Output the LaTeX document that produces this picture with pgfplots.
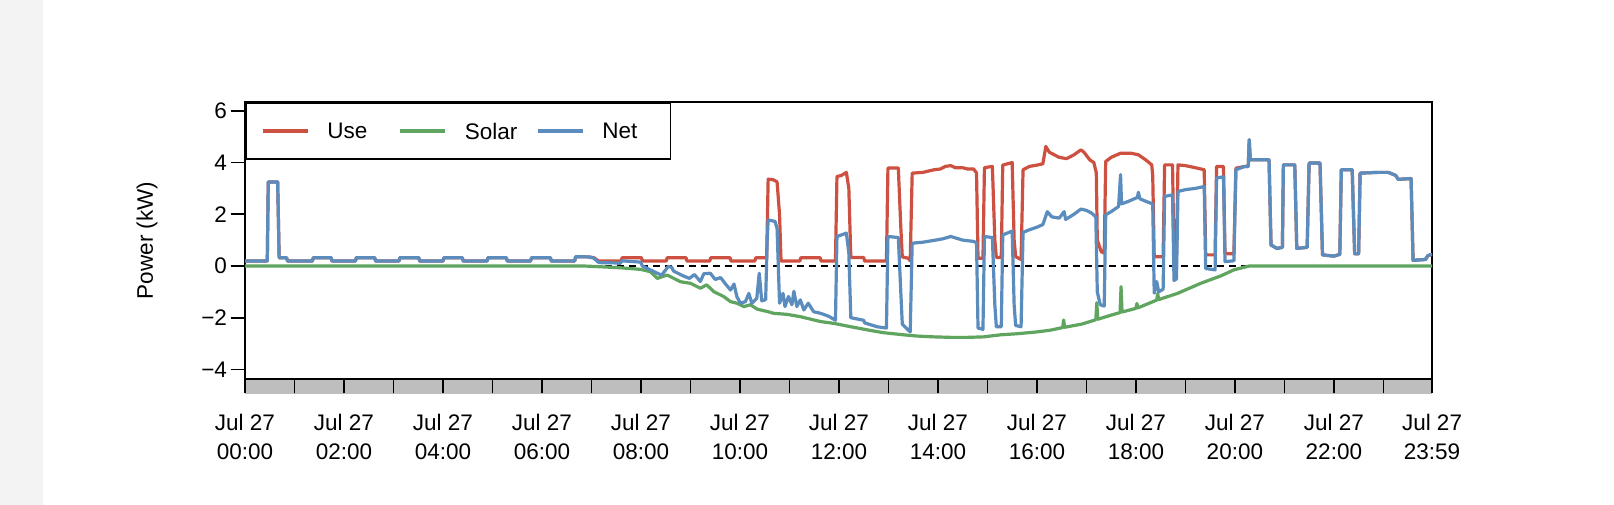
\documentclass[border=0pt]{standalone}
\usepackage{fontspec}
\setmainfont{Liberation Sans}
\usepackage{pgfplots}
\pgfplotsset{compat=1.18}
\definecolor{cuse}{RGB}{205,80,65}
\definecolor{csolar}{RGB}{95,165,95}
\definecolor{cnet}{RGB}{90,140,190}
\definecolor{bandgray}{RGB}{190,190,190}
\definecolor{strip}{RGB}{243,243,243}
\newcommand{\fs}{\fontsize{22.5bp}{28.3bp}\selectfont}
\begin{document}
\begin{tikzpicture}
\path[use as bounding box, fill=white] (0bp,0bp) rectangle (1614bp,505bp);
\fill[strip] (0bp,0bp) rectangle (43bp,505bp);
\fill[bandgray] (245bp,111bp) rectangle (1432bp,126bp);
\begin{axis}[
  at={(245bp,126bp)}, anchor=south west, scale only axis,
  width=1187bp, height=277bp,
  xmin=0, xmax=23.983, ymin=-4.37, ymax=6.34,
  axis line style={line width=1.6bp},
  tick style={black, line width=1.6bp},
  tick align=outside, major tick length=14.5bp,
  xtick pos=bottom, ytick pos=left,
  ytick={-4,-2,0,2,4,6},
  yticklabels={−4,−2,0,2,4,6},
  yticklabel style={font=\fs},
  xtick={0,1,...,23,23.983},
  xticklabels={{Jul 27\\00:00},{},{Jul 27\\02:00},{},{Jul 27\\04:00},{},{Jul 27\\06:00},{},{Jul 27\\08:00},{},{Jul 27\\10:00},{},{Jul 27\\12:00},{},{Jul 27\\14:00},{},{Jul 27\\16:00},{},{Jul 27\\18:00},{},{Jul 27\\20:00},{},{Jul 27\\22:00},{},{Jul 27\\23:59}},
  xticklabel style={font=\fs, align=center, anchor=north, yshift=-17.5bp},
  ylabel={Power (kW)},
  every axis y label/.style={at={(rel axis cs:0,0.5)}, xshift=-98bp, rotate=90, anchor=center, font=\fs},
  legend columns=3,
  legend style={at={(0,1)}, anchor=north west, draw=black, line width=1.6bp, font=\fs,
    inner xsep=15bp, inner ysep=20bp, cells={anchor=west}, nodes={inner sep=0pt, text depth=0pt},
    /tikz/every odd column/.append style={column sep=18bp},
    /tikz/every even column/.append style={column sep=18bp}},
  legend image code/.code={\draw[#1, line width=3.5bp] (0bp,0bp) -- (45bp,0bp);},
]
\addplot[black, line width=1.3bp, dash pattern=on 7bp off 5bp, forget plot] coordinates {(0,0) (23.983,0)};
\addplot[cuse, line width=3.2bp, line join=round] coordinates {
(0,0.19)(0.45,0.19)(0.47,3.25)(0.66,3.25)(0.69,0.32)(0.84,0.32)(0.86,0.19)(1.36,0.19)(1.38,0.32)(1.74,0.32)(1.76,0.19)(2.23,0.19)(2.25,0.32)(2.62,0.32)(2.64,0.19)(3.11,0.19)(3.13,0.32)(3.51,0.32)(3.53,0.19)(4.00,0.19)(4.02,0.32)(4.39,0.32)(4.41,0.19)(4.89,0.19)(4.91,0.32)(5.28,0.32)(5.30,0.19)(5.77,0.19)(5.79,0.32)(6.17,0.32)(6.19,0.19)(6.66,0.19)(6.68,0.36)(6.95,0.35)(7.05,0.32)(7.12,0.22)(7.16,0.19)(7.60,0.19)(7.62,0.32)(8.01,0.32)(8.03,0.19)(8.51,0.19)(8.53,0.32)(8.91,0.32)(8.93,0.19)(9.39,0.19)(9.41,0.32)(9.80,0.32)(9.82,0.19)(10.30,0.19)(10.32,0.32)(10.54,0.32)(10.57,3.36)(10.68,3.33)(10.75,3.25)(10.80,2.0)(10.83,0.19)(11.21,0.19)(11.23,0.32)(11.62,0.32)(11.64,0.19)(11.93,0.19)(11.96,3.46)(12.05,3.5)(12.15,3.62)(12.2,3.0)(12.24,0.33)(12.50,0.33)(12.52,0.19)(12.96,0.19)(12.99,3.79)(13.20,3.79)(13.25,1.5)(13.28,0.35)(13.40,0.3)(13.44,0.2)(13.48,3.59)(13.70,3.62)(13.92,3.72)(14.05,3.75)(14.15,3.85)(14.26,3.88)(14.35,3.8)(14.5,3.8)(14.6,3.75)(14.72,3.75)(14.78,3.6)(14.81,0.3)(14.91,0.3)(14.94,3.8)(15.10,3.85)(15.15,1.0)(15.18,0.33)(15.28,0.33)(15.31,3.9)(15.50,4.0)(15.54,1.0)(15.57,0.36)(15.68,0.25)(15.72,3.72)(15.85,3.85)(16.0,3.9)(16.12,3.95)(16.18,4.62)(16.25,4.4)(16.45,4.2)(16.6,4.15)(16.75,4.3)(16.89,4.49)(16.95,4.4)(17.07,4.1)(17.15,4.0)(17.20,3.6)(17.22,1.0)(17.30,0.55)(17.36,0.5)(17.39,4.04)(17.5,4.2)(17.69,4.36)(17.9,4.36)(18.05,4.3)(18.2,4.1)(18.32,3.91)(18.34,3.5)(18.37,0.36)(18.55,0.36)(18.58,3.91)(18.74,3.91)(18.77,0.36)(18.82,0.36)(18.85,3.91)(19.0,3.88)(19.2,3.8)(19.38,3.72)(19.41,0.43)(19.6,0.43)(19.63,3.85)(19.77,3.85)(19.80,0.47)(19.98,0.47)(20.02,3.78)(20.2,3.85)(20.27,3.85)(20.29,4.88)(20.31,4.11)(20.69,4.11)(20.73,0.81)(20.85,0.68)(20.96,0.72)(20.98,3.91)(21.21,3.91)(21.25,0.68)(21.46,0.72)(21.50,3.98)(21.72,3.98)(21.77,0.43)(22.0,0.38)(22.12,0.45)(22.15,3.72)(22.37,3.72)(22.42,0.47)(22.50,0.47)(22.53,3.59)(22.9,3.62)(23.1,3.62)(23.25,3.5)(23.3,3.35)(23.56,3.38)(23.60,0.22)(23.85,0.25)(23.9,0.4)(23.983,0.45)
};
\addlegendentry{\makebox[53bp][l]{Use}}
\addplot[csolar, line width=3.2bp, line join=round] coordinates {
(0,0)(6.84,0)(7.18,-0.03)(7.58,-0.07)(7.99,-0.13)(8.19,-0.22)(8.33,-0.48)(8.53,-0.35)(8.8,-0.61)(9.0,-0.67)(9.2,-0.86)(9.33,-0.73)(9.47,-0.99)(9.67,-1.18)(9.81,-1.38)(9.94,-1.44)(10.08,-1.57)(10.21,-1.5)(10.35,-1.67)(10.55,-1.76)(10.68,-1.83)(10.95,-1.87)(11.22,-1.96)(11.63,-2.15)(11.9,-2.22)(12.24,-2.35)(12.6,-2.48)(12.9,-2.58)(13.3,-2.66)(13.58,-2.71)(13.9,-2.74)(14.26,-2.76)(14.6,-2.76)(14.93,-2.74)(15.27,-2.66)(15.6,-2.62)(16.0,-2.55)(16.28,-2.48)(16.52,-2.38)(16.54,-2.09)(16.56,-2.37)(16.9,-2.25)(17.19,-2.08)(17.21,-1.42)(17.23,-2.06)(17.5,-1.9)(17.68,-1.8)(17.70,-0.8)(17.72,-1.78)(18.0,-1.64)(18.02,-1.45)(18.04,-1.62)(18.42,-1.32)(18.44,-1.06)(18.46,-1.3)(18.84,-1.06)(19.31,-0.67)(19.72,-0.38)(19.98,-0.15)(20.29,0)(23.983,0)
};
\addlegendentry{\makebox[53bp][l]{Solar}}
\addplot[cnet, line width=3.2bp, line join=round] coordinates {
(0,0.19)(0.45,0.19)(0.47,3.25)(0.66,3.25)(0.69,0.32)(0.84,0.32)(0.86,0.19)(1.36,0.19)(1.38,0.32)(1.74,0.32)(1.76,0.19)(2.23,0.19)(2.25,0.32)(2.62,0.32)(2.64,0.19)(3.11,0.19)(3.13,0.32)(3.51,0.32)(3.53,0.19)(4.00,0.19)(4.02,0.32)(4.39,0.32)(4.41,0.19)(4.89,0.19)(4.91,0.32)(5.28,0.32)(5.30,0.19)(5.77,0.19)(5.79,0.32)(6.17,0.32)(6.19,0.19)(6.66,0.19)(6.68,0.36)(6.95,0.35)(7.05,0.3)(7.12,0.17)(7.16,0.13)(7.45,0.12)(7.58,0.1)(7.62,0.2)(7.99,0.15)(8.03,0.0)(8.19,-0.15)(8.35,-0.3)(8.42,-0.35)(8.5,-0.15)(8.55,-0.02)(8.62,-0.05)(8.66,-0.2)(8.85,-0.38)(8.98,-0.48)(9.08,-0.33)(9.2,-0.6)(9.27,-0.3)(9.40,-0.28)(9.5,-0.52)(9.61,-0.45)(9.71,-0.7)(9.81,-0.93)(9.88,-0.7)(9.94,-1.2)(10.01,-1.44)(10.11,-1.38)(10.18,-1.06)(10.24,-1.44)(10.34,-1.25)(10.39,-0.28)(10.44,-1.35)(10.52,-1.3)(10.55,1.0)(10.57,1.78)(10.71,1.72)(10.75,1.45)(10.8,-1.44)(10.87,-1.06)(10.91,-1.57)(10.98,-1.18)(11.05,-1.5)(11.09,-0.98)(11.15,-1.57)(11.22,-1.31)(11.29,-1.7)(11.38,-1.44)(11.49,-1.77)(11.63,-1.83)(11.8,-1.95)(11.93,-2.1)(11.96,1.14)(12.05,1.2)(12.15,1.27)(12.2,0.5)(12.24,-2.0)(12.5,-2.1)(12.52,-2.2)(12.77,-2.35)(12.96,-2.4)(12.99,1.14)(13.2,1.1)(13.25,-1.0)(13.28,-2.25)(13.44,-2.55)(13.48,0.88)(13.7,0.92)(13.92,0.99)(14.1,1.05)(14.26,1.14)(14.5,1.0)(14.72,0.95)(14.78,0.9)(14.81,-2.4)(14.91,-2.45)(14.94,1.14)(15.10,1.1)(15.15,-1.5)(15.18,-2.35)(15.28,-2.35)(15.31,1.2)(15.50,1.35)(15.54,-1.5)(15.57,-2.3)(15.68,-2.35)(15.72,1.3)(15.85,1.4)(16.0,1.5)(16.12,1.6)(16.21,2.1)(16.3,1.9)(16.45,1.85)(16.55,2.1)(16.58,1.8)(16.75,2.0)(16.89,2.2)(17.0,2.15)(17.1,2.05)(17.19,1.9)(17.22,-1.0)(17.28,-1.5)(17.36,-1.55)(17.39,1.98)(17.5,2.1)(17.65,2.3)(17.69,3.53)(17.71,2.4)(17.85,2.5)(18.03,2.65)(18.05,2.85)(18.08,2.6)(18.2,2.5)(18.34,2.4)(18.37,-1.05)(18.42,-0.6)(18.46,-1.0)(18.55,-0.9)(18.58,2.69)(18.74,2.75)(18.77,-0.56)(18.82,-0.5)(18.85,2.88)(19.0,2.95)(19.2,3.0)(19.38,3.07)(19.41,-0.1)(19.6,-0.15)(19.63,3.40)(19.77,3.45)(19.80,0.17)(19.98,0.2)(20.02,3.72)(20.2,3.85)(20.27,3.85)(20.29,4.88)(20.31,4.11)(20.69,4.11)(20.73,0.81)(20.85,0.68)(20.96,0.72)(20.98,3.91)(21.21,3.91)(21.25,0.68)(21.46,0.72)(21.50,3.98)(21.72,3.98)(21.77,0.43)(22.0,0.38)(22.12,0.45)(22.15,3.72)(22.37,3.72)(22.42,0.47)(22.50,0.47)(22.53,3.59)(22.9,3.62)(23.1,3.62)(23.25,3.5)(23.3,3.35)(23.56,3.38)(23.60,0.22)(23.85,0.25)(23.9,0.4)(23.983,0.45)
};
\addlegendentry{\makebox[53bp][l]{Net}}
\end{axis}
\end{tikzpicture}
\end{document}
